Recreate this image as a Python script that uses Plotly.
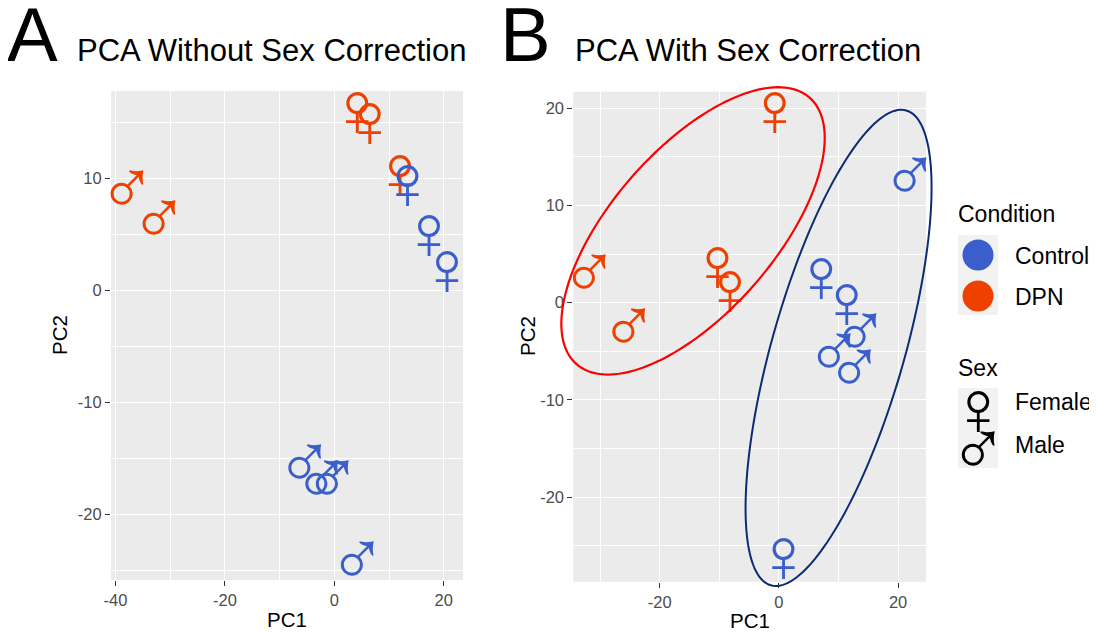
import numpy as np
import plotly.graph_objects as go

# ---------------- data ----------------
CONDITION = ["DPN"] * 5 + ["Control"] * 7
SEX = ["Female", "Female", "Female", "Male", "Male",
       "Female", "Female", "Female", "Male", "Male", "Male", "Male"]

# Panel A: PCA without sex correction
A_PC1 = [4.2, 6.5, 12.0, -37.9, -32.05, 13.4, 17.3, 20.6, -5.4, -2.3, -0.4, 4.2]
A_PC2 = [15.8, 14.76, 10.15, 9.2, 6.5, 9.3, 4.8, 1.6, -15.3, -16.7, -16.7, -23.9]

# Panel B: PCA with sex correction
B_PC1 = [-0.7, -10.3, -8.2, -31.8, -25.2, 7.1, 11.4, 0.8, 22.0, 9.3, 13.6, 12.7]
B_PC2 = [19.4, 3.5, 1.0, 3.3, -2.3, 2.4, -0.28, -26.4, 13.2, -4.9, -2.77, -6.55]

TITLES = ["PCA Without Sex Correction", "PCA With Sex Correction"]
PANEL_LETTERS = ["A", "B"]

# hand-drawn group ellipses on panel B (data units): centre, half-axis vectors
ELLIPSE_DPN = dict(c=(-14.4, 7.38), a=(19.55, 13.70), b=(-10.3, 5.52))
ELLIPSE_CTRL = dict(c=(10.02, -4.65), a=(11.36, 24.41), b=(-10.7, 1.87))

# ---------------- styles ----------------
W, H = 1097, 632
OFF = 8  # page body margin in the browser
COLORS = {"Control": "#3A5FCD", "DPN": "#EE4000"}
GLYPH = {"Female": "\u2640", "Male": "\u2642"}
FONT = "Liberation Sans, Arial, sans-serif"
GLYPH_FONT = "Liberation Sans"
GLYPH_SIZE = 78
# base font size that sets the vertical centring of each glyph
GLYPH_BASE = {"Female": 90, "Male": 108}

BOX_A = (111, 91, 463, 580)
BOX_B = (573.3, 91.7, 926, 581.7)


def px(x):
    return (x - OFF) / W


def py(y):
    return 1 - (y - OFF) / H


def expand(vals, f=0.05):
    lo, hi = min(vals), max(vals)
    d = (hi - lo) * f
    return [lo - d, hi + d]


fig = go.Figure()

panels = [("x", "y", A_PC1, A_PC2, BOX_A), ("x2", "y2", B_PC1, B_PC2, BOX_B)]
ranges = {}
for xa, ya, X, Y, box in panels:
    ranges[xa] = expand(X)
    ranges[ya] = expand(Y)
    for cond in ["DPN", "Control"]:
        for sex in ["Female", "Male"]:
            idx = [i for i in range(len(X)) if CONDITION[i] == cond and SEX[i] == sex]
            glyph = f"<span style='font-size:{GLYPH_SIZE}px'>{GLYPH[sex]}</span>"
            fig.add_trace(go.Scatter(
                x=[X[i] for i in idx], y=[Y[i] for i in idx],
                mode="text", text=[glyph] * len(idx),
                textposition="middle center",
                textfont=dict(family=GLYPH_FONT, size=GLYPH_BASE[sex], color=COLORS[cond]),
                xaxis=xa, yaxis=ya, showlegend=False, cliponaxis=False,
                hoverinfo="skip"))

tickfont = dict(family=FONT, size=16.5, color="#4D4D4D")


def axis(lo, hi, rng, dtick, anchor, vertical=False):
    dom = [py(hi), py(lo)] if vertical else [px(lo), px(hi)]
    start = np.ceil(rng[0] / dtick) * dtick
    vals = np.arange(start, rng[1] + 1e-9, dtick)
    return dict(domain=dom, range=rng, tickmode="array", tickvals=list(vals),
                ticktext=[f"{v:g}" for v in vals],
                ticks="outside", ticklen=5, tickwidth=1.1, tickcolor="#333333",
                showgrid=True, gridcolor="white", gridwidth=1.4,
                zeroline=False, showline=False, tickfont=tickfont, anchor=anchor,
                automargin=False,
                minor=dict(tickmode="linear", tick0=0, dtick=dtick / 2, showgrid=True,
                           gridcolor="white", gridwidth=0.7, ticks=""),
                fixedrange=True)


fig.update_layout(
    width=W, height=H, margin=dict(l=0, r=0, t=0, b=0),
    paper_bgcolor="white", plot_bgcolor="#EBEBEB", showlegend=False,
    xaxis=axis(BOX_A[0], BOX_A[2], ranges["x"], 20, "y"),
    yaxis=axis(BOX_A[1], BOX_A[3], ranges["y"], 10, "x", vertical=True),
    xaxis2=axis(BOX_B[0], BOX_B[2], ranges["x2"], 20, "y2"),
    yaxis2=axis(BOX_B[1], BOX_B[3], ranges["y2"], 10, "x2", vertical=True),
)

annotations = []
shapes = []


def text(x, y, s, size, color="black", xanchor="left", angle=0, family=FONT):
    annotations.append(dict(x=px(x), y=py(y), xref="paper", yref="paper", text=s,
                            showarrow=False, xanchor=xanchor, yanchor="middle",
                            textangle=angle, font=dict(family=family, size=size, color=color)))


# panel letters & titles
text(5, 34, PANEL_LETTERS[0], 76)
text(498, 34, PANEL_LETTERS[1], 76)
text(75, 50, TITLES[0], 31)
text(573, 50, TITLES[1], 31)

# axis titles
text(287, 619, "PC1", 20.5, xanchor="center")
text(59, 335, "PC2", 20.5, xanchor="center", angle=-90)
text(749.7, 620, "PC1", 20.5, xanchor="center")
text(527, 336, "PC2", 20.5, xanchor="center", angle=-90)


# ellipses (data -> paper, drawn unclipped)
def to_paper(xv, yv, xa, ya, box):
    r = ranges[xa]
    s = ranges[ya]
    pxv = box[0] + (xv - r[0]) / (r[1] - r[0]) * (box[2] - box[0])
    pyv = box[3] - (yv - s[0]) / (s[1] - s[0]) * (box[3] - box[1])
    return px(pxv), py(pyv)


for ell, col, lw in [(ELLIPSE_DPN, "#FF0000", 2.2), (ELLIPSE_CTRL, "#0D2B73", 2.0)]:
    t = np.linspace(0, 2 * np.pi, 181)
    ex = ell["c"][0] + ell["a"][0] * np.cos(t) + ell["b"][0] * np.sin(t)
    ey = ell["c"][1] + ell["a"][1] * np.cos(t) + ell["b"][1] * np.sin(t)
    qx, qy = to_paper(ex, ey, "x2", "y2", BOX_B)
    path = "M " + " L ".join(f"{a:.5f},{b:.5f}" for a, b in zip(qx, qy)) + " Z"
    shapes.append(dict(type="path", path=path, xref="paper", yref="paper",
                       line=dict(color=col, width=lw), layer="above"))

# legend (manual, ggplot style)
LEG_SIZE = 23
text(956, 213.5, "Condition", LEG_SIZE)
shapes.append(dict(type="rect", xref="paper", yref="paper", x0=px(958), x1=px(998),
                   y0=py(315), y1=py(235), fillcolor="#F2F2F2", line=dict(width=0), layer="below"))
for i, cond in enumerate(["Control", "DPN"]):
    cy = 255 + 41 * i
    r = 15.5
    shapes.append(dict(type="circle", xref="paper", yref="paper",
                       x0=px(978 - r), x1=px(978 + r), y0=py(cy + r), y1=py(cy - r),
                       fillcolor=COLORS[cond], line=dict(width=0)))
    text(1013, cy + 1, cond, LEG_SIZE)

text(956, 368, "Sex", LEG_SIZE)
shapes.append(dict(type="rect", xref="paper", yref="paper", x0=px(958), x1=px(998),
                   y0=py(468), y1=py(388), fillcolor="#F2F2F2", line=dict(width=0), layer="below"))
for i, sex in enumerate(["Female", "Male"]):
    cy = 408 + 40 * i
    text(978, cy, GLYPH[sex], GLYPH_SIZE, xanchor="center", family=GLYPH_FONT)
    text(1013, 401.5 + 43.5 * i, sex, LEG_SIZE)

fig.update_layout(annotations=annotations, shapes=shapes)
fig.write_html("out.html")
